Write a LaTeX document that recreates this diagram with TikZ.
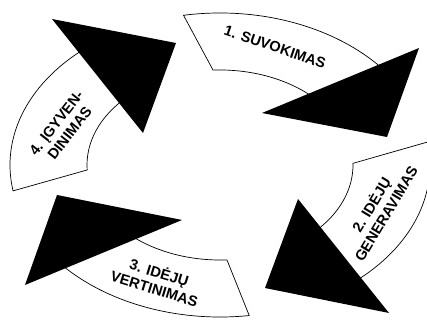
\documentclass[tikz,border=0pt]{standalone}
\usepackage{fontspec}
\setmainfont{Liberation Sans}
\usetikzlibrary{calc}

\begin{document}
\begin{tikzpicture}[x=0.03cm, y=0.03cm,
  band/.style={draw=black, fill=white, line width=0.6pt},
  head/.style={fill=black},
  lbl/.style={font=\fontsize{12.5}{14.5}\selectfont\bfseries, align=center, inner sep=0pt}
]
  \clip (-220,-155) rectangle (207,165);

  %% Bands (outer arc tail -> head, inner arc back)
  \draw[band] (100:6.3cm and 4.56cm) arc[start angle=100, end angle=38, x radius=6.3cm, y radius=4.56cm]
    -- (45:3.99cm and 2.85cm) arc[start angle=45, end angle=93, x radius=3.99cm, y radius=2.85cm] -- cycle;
  \draw[band] (8.7:6.3cm and 4.56cm) arc[start angle=8.7, end angle=-50, x radius=6.3cm, y radius=4.56cm]
    -- (-45:3.99cm and 2.85cm) arc[start angle=-45, end angle=1, x radius=3.99cm, y radius=2.85cm] -- cycle;
  \draw[band] (-82:6.3cm and 4.56cm) arc[start angle=-82, end angle=-142, x radius=6.3cm, y radius=4.56cm]
    -- (-135:3.99cm and 2.85cm) arc[start angle=-135, end angle=-87, x radius=3.99cm, y radius=2.85cm] -- cycle;
  \draw[band] (189.8:6.3cm and 4.56cm) arc[start angle=189.8, end angle=128, x radius=6.3cm, y radius=4.56cm]
    -- (135:3.99cm and 2.85cm) arc[start angle=135, end angle=183, x radius=3.99cm, y radius=2.85cm] -- cycle;

  %% Arrow heads
  \fill[head] (42,52) -- (199,117) -- (167,28) -- cycle;
  \fill[head] (78,-34) -- (45,-123) -- (169,-148) -- cycle;
  \fill[head] (-163,-30) -- (-38,-55) -- (-195,-120) -- cycle;
  \fill[head] (-168,146) -- (-44,122) -- (-77,32) -- cycle;

  %% Labels
  \node[lbl, rotate=-19] (suvok) at (55,118) {1. SUVOKIMAS};
  \node[lbl, rotate=59]  (gener) at (158,-44) {2. IDĖJŲ\\GENERAVIMAS};
  \node[lbl, rotate=-17] (vertin) at (-63,-115) {3. IDĖJŲ\\VERTINIMAS};
  \node[lbl, rotate=52]  (igyven) at (-157,37) {4. ĮGYVEN-\\DINIMAS};
\end{tikzpicture}
\end{document}
